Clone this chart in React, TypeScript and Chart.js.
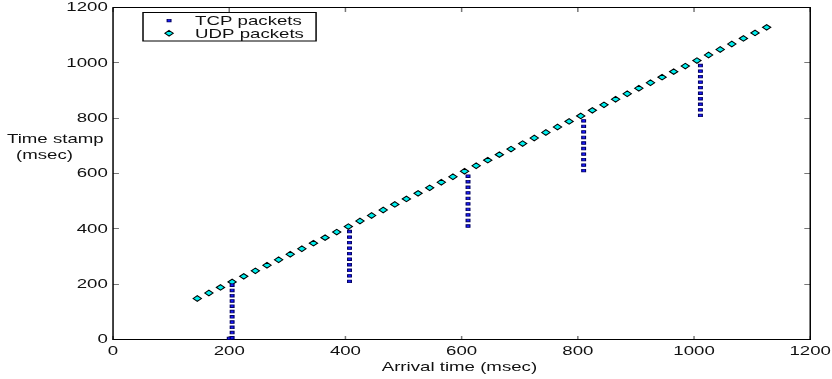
import React, { useEffect, useRef } from 'react';
import { Chart, registerables } from 'chart.js';

Chart.register(...registerables);

// UDP packets: arrival time vs. sender time stamp (msec)
const udpArrival = [
  145, 165, 185, 205, 225, 245, 265, 285, 305, 325,
  345, 365, 385, 405, 425, 445, 465, 485, 505, 525,
  545, 565, 585, 605, 625, 645, 665, 685, 705, 725,
  745, 765, 785, 805, 825, 845, 865, 885, 905, 925,
  945, 965, 985, 1005, 1025, 1045, 1065, 1085, 1105, 1125,
];
const udpStamp = [
  150, 170, 190, 210, 230, 250, 270, 290, 310, 330,
  350, 370, 390, 410, 430, 450, 470, 490, 510, 530,
  550, 570, 590, 610, 630, 650, 670, 690, 710, 730,
  750, 770, 790, 810, 830, 850, 870, 890, 910, 930,
  950, 970, 990, 1010, 1030, 1050, 1070, 1090, 1110, 1130,
];

// TCP packets: delivered in bursts, each burst arriving at once
const tcpArrival = [
  200,
  205, 205, 205, 205, 205, 205, 205, 205, 205, 205, 205,
  407, 407, 407, 407, 407, 407, 407, 407, 407, 407,
  611, 611, 611, 611, 611, 611, 611, 611, 611, 611,
  810, 810, 810, 810, 810, 810, 810, 810, 810, 810,
  1011, 1011, 1011, 1011, 1011, 1011, 1011, 1011, 1011, 1011,
];
const tcpStamp = [
  6,
  8, 27, 46, 65, 84, 103, 122, 141, 160, 179, 198,
  212, 232, 252, 272, 292, 312, 332, 352, 372, 392,
  412, 432, 452, 472, 492, 512, 532, 552, 572, 592,
  612, 632, 652, 672, 692, 712, 732, 752, 772, 792,
  812, 832, 852, 872, 892, 912, 932, 952, 972, 992,
];

const axisTicks = [0, 200, 400, 600, 800, 1000, 1200];
const xTickLabels = ['0', '200', '400', '600', '800', '1000', '1200'];
const yTickLabels = ['0', '200', '400', '600', '800', '1000', '1200'];
const seriesNames = ['TCP packets', 'UDP packets'];
const xTitle = 'Arrival time (msec)';
const yTitleLines = ['Time stamp', '(msec)'];

// The figure is laid out on a narrower logical canvas and stretched horizontally.
const FULL_W = 832;
const H = 379;
const BASE_W = 562;
const SX = FULL_W / BASE_W;

const FONT = '"Liberation Sans", Arial, Helvetica, sans-serif';
const FONT_SIZE = 12.6;
const TEXT = '#111';
const UDP_FILL = '#00eeee';
const TCP_FILL = '#1a1aff';
const TCP_EDGE = '#000060';
const TICK_COLOR = '#777';
const TCP_RADIUS = 1.8;
const UDP_RADIUS = 2.8;

function drawDiamond(ctx: CanvasRenderingContext2D, x: number, y: number, r: number) {
  ctx.beginPath();
  ctx.moveTo(x, y - r);
  ctx.lineTo(x + r, y);
  ctx.lineTo(x, y + r);
  ctx.lineTo(x - r, y);
  ctx.closePath();
  ctx.fillStyle = UDP_FILL;
  ctx.fill();
  ctx.lineWidth = 0.9;
  ctx.strokeStyle = '#000';
  ctx.stroke();
}

function drawSquare(ctx: CanvasRenderingContext2D, x: number, y: number, r: number) {
  const s = Math.SQRT1_2 * r;
  ctx.beginPath();
  ctx.rect(x - s, y - s, 2 * s, 2 * s);
  ctx.fillStyle = TCP_FILL;
  ctx.fill();
  ctx.lineWidth = 0.8;
  ctx.strokeStyle = TCP_EDGE;
  ctx.stroke();
}

const stretchPlugin = {
  id: 'stretch',
  beforeDraw(chart: any) {
    chart.ctx.setTransform(SX, 0, 0, 1, 0, 0);
  },
};

const framePlugin = {
  id: 'frame',
  beforeDatasetsDraw(chart: any) {
    const ctx: CanvasRenderingContext2D = chart.ctx;
    const { left, right, top, bottom } = chart.chartArea;
    const xs = chart.scales.x;
    const ys = chart.scales.y;
    ctx.save();
    // inward tick marks on all four sides
    ctx.strokeStyle = TICK_COLOR;
    ctx.lineWidth = 1;
    ctx.beginPath();
    for (const v of axisTicks) {
      const px = xs.getPixelForValue(v);
      ctx.moveTo(px, bottom);
      ctx.lineTo(px, bottom - 4);
      ctx.moveTo(px, top);
      ctx.lineTo(px, top + 4);
      const py = Math.round(ys.getPixelForValue(v)) - 0.5;
      ctx.moveTo(left, py);
      ctx.lineTo(left + 4, py);
      ctx.moveTo(right, py);
      ctx.lineTo(right - 4, py);
    }
    ctx.stroke();
    // axes box
    ctx.strokeStyle = '#000';
    ctx.lineWidth = 1;
    ctx.strokeRect(left, top - 0.5, right - left, bottom - top);
    ctx.restore();
  },
  afterDraw(chart: any) {
    const ctx: CanvasRenderingContext2D = chart.ctx;
    const { left, right } = chart.chartArea;
    ctx.save();
    ctx.font = `${FONT_SIZE}px ${FONT}`;
    ctx.fillStyle = TEXT;
    ctx.textBaseline = 'alphabetic';

    // axis titles
    ctx.textAlign = 'center';
    ctx.fillText(xTitle, (left + right) / 2 - 1.5, 371);
    ctx.textAlign = 'left';
    ctx.fillText(yTitleLines[0], 4.7, 142.5);
    ctx.fillText(yTitleLines[1], 10.8, 159);

    // legend box
    const bx = 96.6;
    const by = 12.5;
    const bw = 116.9;
    const bh = 28.5;
    ctx.fillStyle = '#fff';
    ctx.fillRect(bx, by, bw, bh);
    ctx.strokeStyle = '#000';
    ctx.lineWidth = 1;
    ctx.strokeRect(bx, by, bw, bh);

    drawSquare(ctx, 114.2, 20.7, TCP_RADIUS);
    drawDiamond(ctx, 114.2, 33.3, UDP_RADIUS);

    ctx.fillStyle = TEXT;
    ctx.textAlign = 'left';
    ctx.fillText(seriesNames[0], 131.8, 25);
    ctx.fillText(seriesNames[1], 131.8, 37.5);
    ctx.restore();
  },
};

export default function App() {
  const ref = useRef<HTMLCanvasElement | null>(null);

  useEffect(() => {
    const canvas = ref.current;
    if (!canvas) return;
    Chart.defaults.font.family = FONT;
    Chart.defaults.font.size = FONT_SIZE;
    Chart.defaults.color = TEXT;

    const chart = new Chart(canvas, {
      type: 'scatter',
      data: {
        datasets: [
          {
            label: seriesNames[0],
            data: tcpArrival.map((x, i) => ({ x, y: tcpStamp[i] })),
            pointStyle: 'rect',
            pointRadius: TCP_RADIUS,
            pointHoverRadius: TCP_RADIUS,
            backgroundColor: TCP_FILL,
            borderColor: TCP_EDGE,
            borderWidth: 0.8,
            clip: false,
          },
          {
            label: seriesNames[1],
            data: udpArrival.map((x, i) => ({ x, y: udpStamp[i] })),
            pointStyle: 'rectRot',
            pointRadius: UDP_RADIUS,
            pointHoverRadius: UDP_RADIUS,
            backgroundColor: UDP_FILL,
            borderColor: '#000',
            borderWidth: 0.9,
            clip: false,
          },
        ],
      },
      options: {
        responsive: false,
        devicePixelRatio: 1,
        animation: false,
        events: [],
        layout: { autoPadding: false, padding: { top: 8, right: 14.7, left: 0, bottom: 0 } },
        plugins: {
          legend: { display: false },
          tooltip: { enabled: false },
        },
        scales: {
          x: {
            type: 'linear',
            min: 0,
            max: 1200,
            grid: { display: false, drawTicks: false },
            border: { display: false },
            ticks: {
              stepSize: 200,
              padding: 4,
              maxRotation: 0,
              color: TEXT,
              callback: (v: any) => xTickLabels[axisTicks.indexOf(Number(v))] ?? '',
            },
            afterFit: (scale: any) => {
              scale.height = 39;
              scale.paddingLeft = 0;
              scale.paddingRight = 0;
              scale.paddingTop = 0;
              scale.paddingBottom = 0;
            },
          },
          y: {
            type: 'linear',
            min: 0,
            max: 1200,
            grid: { display: false, drawTicks: false },
            border: { display: false },
            ticks: {
              stepSize: 200,
              padding: 3.5,
              color: TEXT,
              callback: (v: any) => yTickLabels[axisTicks.indexOf(Number(v))] ?? '',
            },
            afterFit: (scale: any) => {
              scale.width = 76.35;
              scale.paddingTop = 0;
              scale.paddingBottom = 0;
              scale.paddingLeft = 0;
              scale.paddingRight = 0;
            },
          },
        },
      },
      plugins: [stretchPlugin, framePlugin],
    } as any);

    // widen the bitmap and redraw through the horizontal stretch
    canvas.width = FULL_W;
    canvas.height = H;
    canvas.style.width = FULL_W + 'px';
    canvas.style.height = H + 'px';
    chart.draw();

    return () => {
      chart.destroy();
    };
  }, []);

  return (
    <div
      style={{
        position: 'fixed',
        left: 0,
        top: 0,
        width: FULL_W,
        height: H,
        background: '#fff',
        overflow: 'hidden',
      }}
    >
      <canvas ref={ref} width={BASE_W} height={H} />
    </div>
  );
}
